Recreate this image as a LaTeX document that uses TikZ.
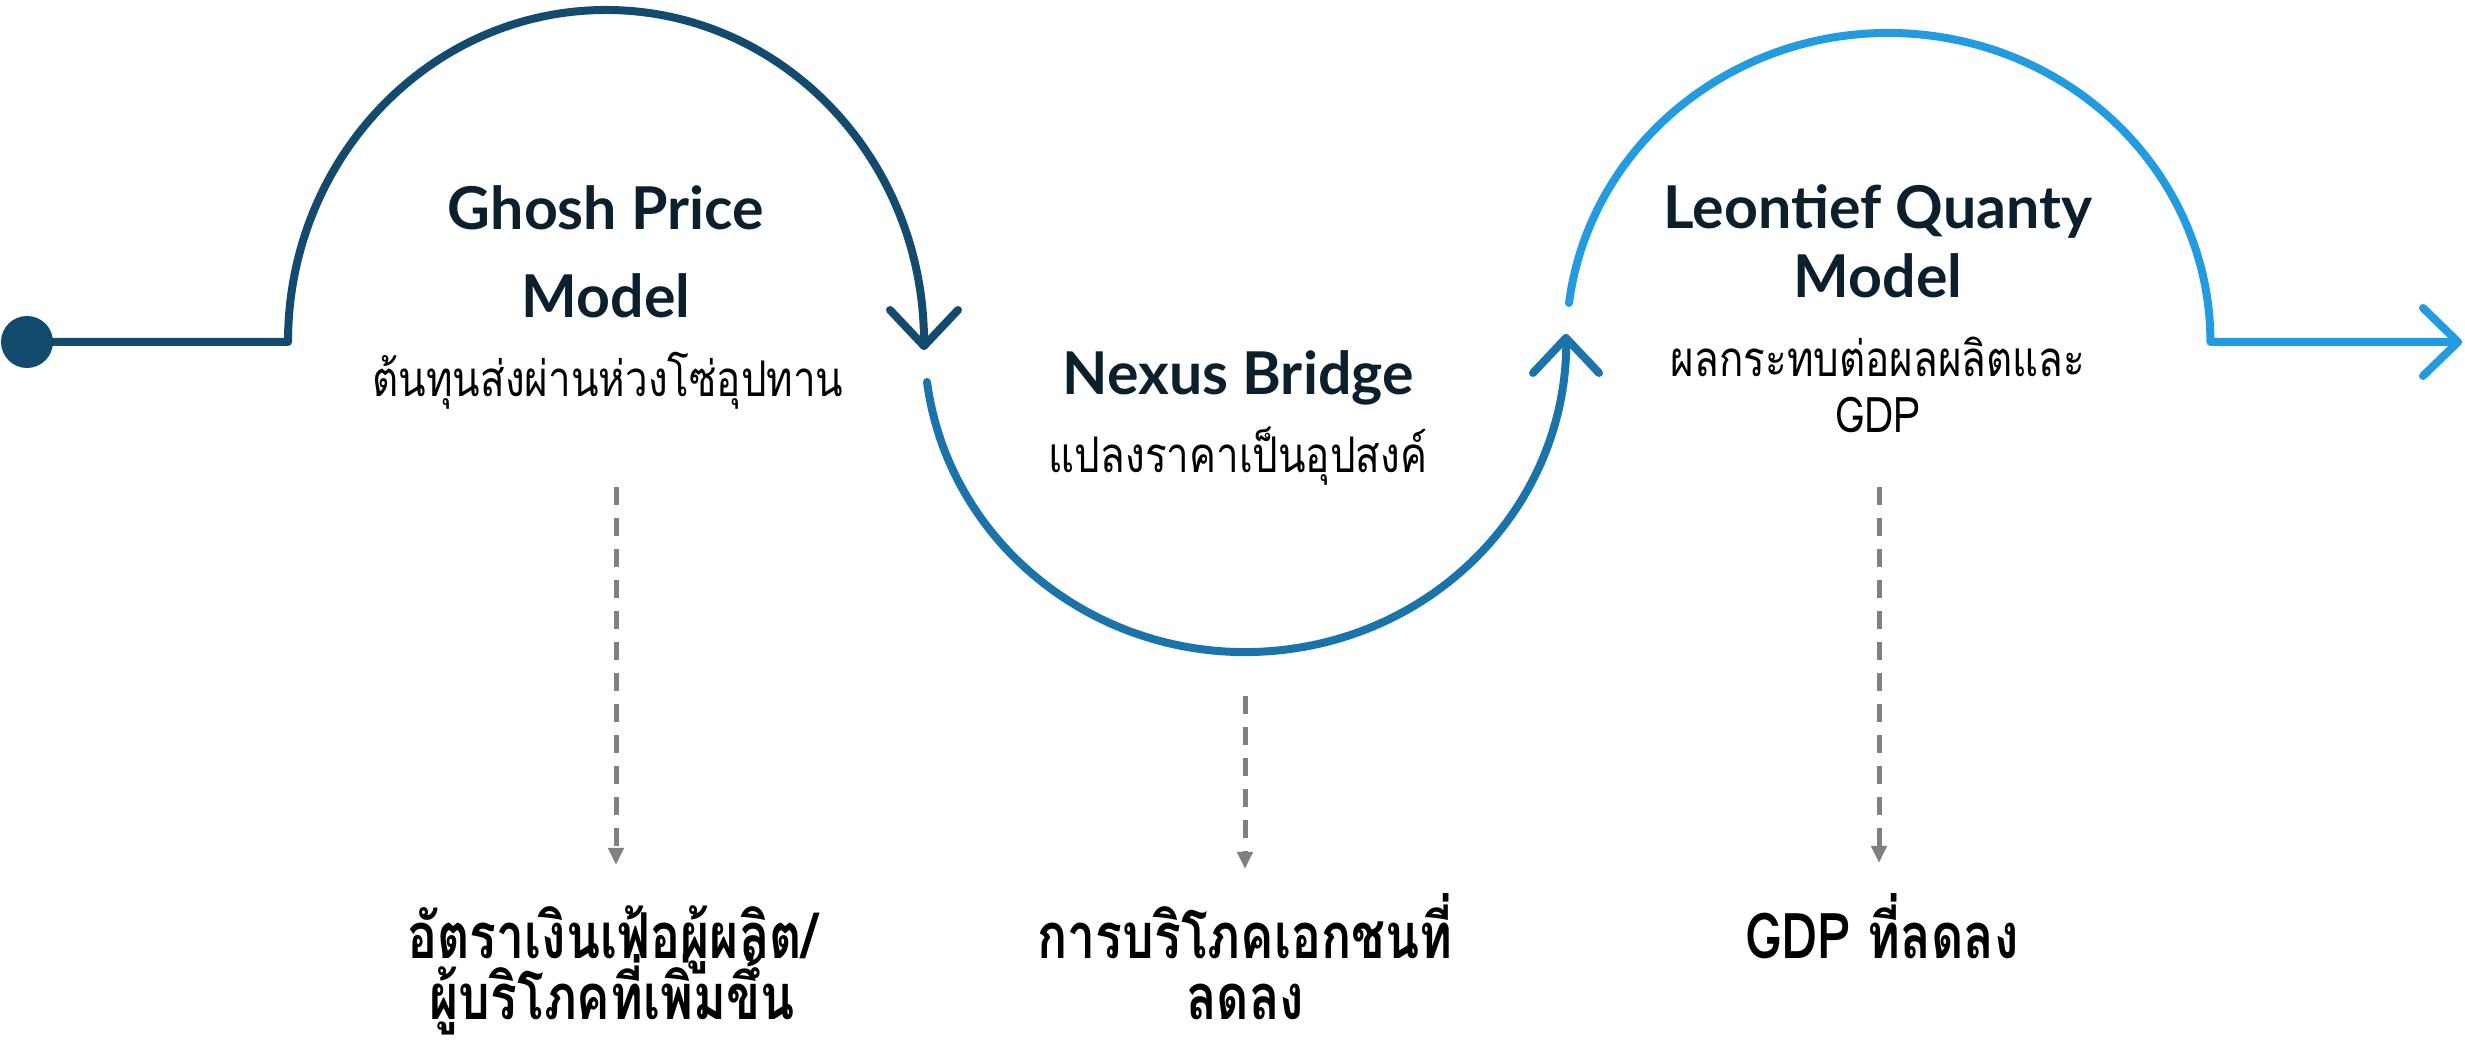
\documentclass[tikz,border=0pt]{standalone}
\usepackage{fontspec}
\setmainfont{Lato}
\newfontfamily\thaifont[Script=Thai,FakeStretch=0.82]{Loma}
\newfontfamily\thaibold[Script=Thai,FakeStretch=0.79]{Loma}
\usetikzlibrary{arrows.meta}

\definecolor{blueA}{HTML}{134B6F}
\definecolor{blueB}{HTML}{1A73AA}
\definecolor{blueC}{HTML}{229BE1}
\definecolor{titlenavy}{HTML}{0B1F2D}
\definecolor{dashgray}{HTML}{808080}

\tikzset{
  flow/.style={line width=0.08cm, line cap=round, line join=round},
  headline/.style={anchor=base, text=titlenavy, font=\fontsize{16.8}{19}\selectfont\bfseries},
  subtext/.style={anchor=base, font=\thaifont\fontsize{14}{17}\selectfont},
  outcome/.style={anchor=base, font=\thaibold\fontsize{18}{22}\selectfont\bfseries},
  drop/.style={dashgray, line width=0.05cm, dash pattern=on 0.18cm off 0.13cm,
    -{Triangle[length=1.7mm,width=1.5mm]}},
}

\begin{document}
\begin{tikzpicture}
\useasboundingbox (0,0) rectangle (24.65,10.43);
% Punto de partida
\coordinate (start) at (0.27,7.01);
\fill[blueA] (start) circle (0.26);
% Arco 1 (hacia arriba)
\coordinate (lead) at (2.88,7.01);
\coordinate (tipA) at (9.24,6.97);
\draw[flow, blueA] (start) -- (lead)
  arc[start angle=180, end angle=0, x radius=3.18, y radius=3.32] -- (tipA);
\draw[flow, blueA] (tipA) ++(-0.34,0.36) -- (tipA) -- ++(0.34,0.36);
% Arco 2 (hacia abajo)
\coordinate (dip) at (9.27,6.61);
\coordinate (tipB) at (15.66,7.05);
\draw[flow, blueB] (dip)
  arc[start angle=187.4, end angle=360, x radius=3.21, y radius=3.10] -- (tipB);
\draw[flow, blueB] (tipB) ++(-0.33,-0.35) -- (tipB) -- ++(0.33,-0.35);
% Arco 3 (hacia arriba) y salida
\coordinate (rise) at (15.69,7.40);
\coordinate (tipC) at (24.58,7.01);
\draw[flow, blueC] (rise)
  arc[start angle=172.75, end angle=0, x radius=3.22, y radius=3.09] -- (tipC);
\draw[flow, blueC] (tipC) ++(-0.35,0.34) -- (tipC) -- ++(-0.35,-0.34);
% Textos de los modelos
\node[headline] (ghoshA) at (6.06,8.13) {Ghosh Price};
\node[headline] (ghoshB) at (6.06,7.25) {Model};
\node[subtext] (ghoshC) at (6.08,6.46) {ต้นทุนส่งผ่านห่วงโซ่อุปทาน};
\node[headline] (nexusA) at (12.38,6.48) {Nexus Bridge};
\node[subtext] (nexusB) at (12.38,5.70) {แปลงราคาเป็นอุปสงค์};
\node[headline] (leonA) at (18.78,8.14) {Leontief Quanty};
\node[headline] (leonB) at (18.78,7.45) {Model};
\node[subtext] (leonC) at (18.78,6.66) {ผลกระทบต่อผลผลิตและ};
\node[subtext] (leonD) at (18.78,6.10) {GDP};
% Efectos finales
\node[outcome] (effA1) at (6.12,0.84) {อัตราเงินเฟ้อผู้ผลิต/};
\node[outcome] (effA2) at (6.12,0.23) {ผู้บริโภคที่เพิ่มขึ้น};
\node[outcome] (effB1) at (12.45,0.84) {การบริโภคเอกชนที่};
\node[outcome] (effB2) at (12.45,0.23) {ลดลง};
\node[outcome] (effC1) at (18.82,0.84) {GDP ที่ลดลง};
% Flechas punteadas
\foreach \n/\x/\ya/\yb in {A/6.16/5.56/1.78, B/12.45/3.47/1.74, C/18.79/5.56/1.80} {
  \coordinate (top\n) at (\x,\ya);
  \coordinate (bot\n) at (\x,\yb);
  \draw[drop] (top\n) -- (bot\n);
}
\end{tikzpicture}
\end{document}
